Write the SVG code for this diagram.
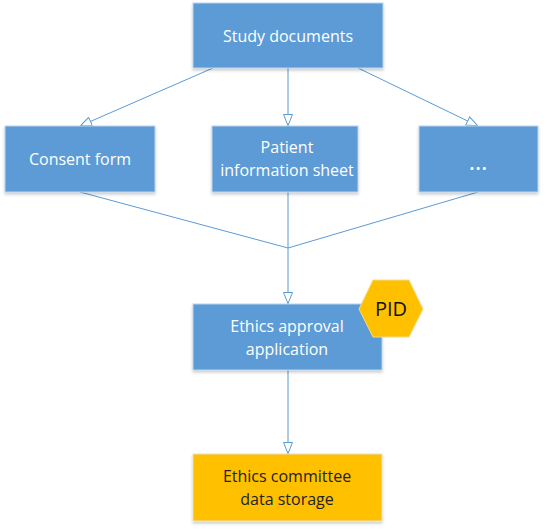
<svg xmlns="http://www.w3.org/2000/svg" width="547" height="529" viewBox="0 0 547 529">
<defs>
<marker id="arr" viewBox="0 0 12 10" refX="12" refY="5" markerWidth="12" markerHeight="10" markerUnits="userSpaceOnUse" orient="auto">
<path d="M0.5,0.5 L11.5,5 L0.5,9.5 Z" fill="#ffffff" stroke="#5B9BD5" stroke-width="1"/>
</marker>
<filter id="sh" x="-10%" y="-10%" width="120%" height="130%">
<feDropShadow dx="0" dy="2" stdDeviation="1.5" flood-color="#000" flood-opacity="0.2"/>
</filter>
</defs>
<style>
.box{fill:#5B9BD5;stroke:#BDD3EC;stroke-width:1;filter:url(#sh)}
.ybox{fill:#FFC000;stroke:#E8E0C8;stroke-width:1;filter:url(#sh)}
.t{font-family:"Open Sans","Liberation Sans",sans-serif;font-size:16px;fill:#ffffff;text-anchor:middle}
.d{font-family:"Open Sans","Liberation Sans",sans-serif;font-size:16px;fill:#222222;text-anchor:middle}
.c{fill:none;stroke:#5B9BD5;stroke-width:1}
</style>
<rect width="547" height="529" fill="#ffffff"/>
<g id="connectors">
<line class="c" x1="288" y1="68" x2="288" y2="126" marker-end="url(#arr)"/>
<line class="c" x1="213" y1="68" x2="80" y2="126" marker-end="url(#arr)"/>
<line class="c" x1="358" y1="68" x2="478" y2="126" marker-end="url(#arr)"/>
<polyline class="c" points="80,192 288,248 478,192"/>
<line class="c" x1="288" y1="192" x2="288" y2="304" marker-end="url(#arr)"/>
<line class="c" x1="288" y1="370" x2="288" y2="454" marker-end="url(#arr)"/>
</g>
<g id="study">
<rect class="box" x="193" y="3" width="190" height="65"/>
<text class="t" x="288" y="42">Study documents</text>
</g>
<g id="consent">
<rect class="box" x="5" y="126" width="150" height="66"/>
<text class="t" x="80" y="165">Consent form</text>
</g>
<g id="patient">
<rect class="box" x="212" y="126" width="146" height="66"/>
<text class="t" x="287" y="153">Patient</text>
<text class="t" x="287" y="176">information sheet</text>
</g>
<g id="more">
<rect class="box" x="419" y="126" width="119" height="66"/>
<text class="t" x="478" y="170" style="font-size:24px">…</text>
</g>
<g id="ethics">
<rect class="box" x="193" y="304" width="189" height="66"/>
<text class="t" x="287" y="332">Ethics approval</text>
<text class="t" x="287" y="355">application</text>
</g>
<g id="pid">
<polygon points="359,309 373,280 409,280 423,309 409,337 373,337" fill="#FFC000" stroke="#F2D98C" stroke-width="1"/>
<text x="391" y="316" font-family="'Open Sans','Liberation Sans',sans-serif" font-size="20" fill="#111111" text-anchor="middle">PID</text>
</g>
<g id="storage">
<rect class="ybox" x="193" y="454" width="189" height="67"/>
<text class="d" x="287" y="482">Ethics committee</text>
<text class="d" x="287" y="505">data storage</text>
</g>
</svg>
